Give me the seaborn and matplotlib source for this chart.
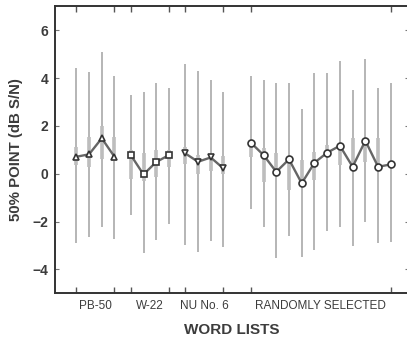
import matplotlib
matplotlib.use("Agg")
import matplotlib.pyplot as plt
import matplotlib.transforms as mtransforms
import numpy as np
import pandas as pd
import seaborn as sns

# word list groups and number of lists in each
groups = ["PB-50", "W-22", "NU No. 6", "RANDOMLY SELECTED"]
group_sizes = [4, 4, 4, 12]

# 50% point (dB S/N) per list
means = [0.71, 0.81, 1.48, 0.71,
         0.78, -0.03, 0.49, 0.78,
         0.85, 0.50, 0.68, 0.22,
         1.30, 0.78, 0.08, 0.60, -0.40, 0.46, 0.88, 1.17, 0.29, 1.38, 0.29, 0.39]

# full range (long lines)
range_lo = [-2.91, -2.63, -2.21, -2.73,
            -1.73, -3.33, -2.77, -2.08,
            -2.98, -3.26, -2.80, -3.05,
            -1.49, -2.21, -3.54, -2.59, -3.47, -3.19, -2.40, -2.21, -3.01, -2.00, -2.91, -2.87]
range_hi = [4.40, 4.23, 5.10, 4.08,
            3.29, 3.43, 3.80, 3.57,
            4.58, 4.30, 3.91, 3.43,
            4.08, 3.91, 3.80, 3.80, 2.70, 4.22, 4.22, 4.71, 3.50, 4.78, 3.57, 3.80]

# inner range (short thick bars)
inner_lo = [0.35, 0.30, 0.60, 0.55,
            -0.20, -0.30, -0.12, 0.30,
            0.40, 0.00, 0.10, 0.00,
            0.70, -0.33, 0.15, -0.68, -0.33, -0.26, 0.71, 0.36, 0.29, 0.50, 0.36, 0.30]
inner_hi = [1.10, 1.55, 2.00, 1.55,
            1.00, 0.86, 0.99, 1.00,
            1.10, 0.80, 0.80, 0.75,
            1.40, 1.06, 0.85, 0.57, 0.57, 0.92, 1.20, 1.27, 1.48, 1.41, 1.48, 0.50]

group_markers = {"PB-50": "^", "W-22": "s", "NU No. 6": "v", "RANDOMLY SELECTED": "o"}

# x layout: unit step inside a group, wider gaps between groups
gaps = [0, 1.28, 1.28, 2.15]
xs, labels = [], []
pos = 0.0
for g, n, gap in zip(groups, group_sizes, gaps):
    pos += gap if xs else 0
    for k in range(n):
        xs.append(pos + k)
        labels.append(g)
    pos = xs[-1]

df = pd.DataFrame({
    "group": labels, "x": xs, "mean": means,
    "lo": range_lo, "hi": range_hi, "ilo": inner_lo, "ihi": inner_hi,
})

sns.set_style("ticks")
plt.rcParams["font.family"] = ["Liberation Sans", "DejaVu Sans"]
text_color = "#3c3c3c"

fig = plt.figure(figsize=(4.07, 3.38), dpi=100)
ax = fig.add_axes([55.3 / 407, 44.6 / 338, 353.2 / 407, 287.2 / 338])

ax.vlines(df["x"], df["lo"], df["hi"], color="#a2a2a2", lw=1.1, zorder=1)
ax.vlines(df["x"], df["ilo"], df["ihi"], color="#bdbdbd", lw=2.6, zorder=1.5)

sns.lineplot(data=df, x="x", y="mean", style="group", markers=group_markers,
             dashes=False, color="#666666", lw=1.7, estimator=None, sort=False,
             legend=False, ax=ax, markersize=5, markerfacecolor="white",
             markeredgecolor="#333333", markeredgewidth=1.2, zorder=3)

ax.set_xlim(-1.65, 26.1)
ax.set_ylim(-5, 7)
ax.set_yticks([-4, -2, 0, 2, 4, 6])

# ticks at the first and last list of each group
edge_ticks = []
for g in groups:
    sub = df[df["group"] == g]["x"]
    edge_ticks += [sub.min(), sub.max()]
ax.set_xticks(edge_ticks)
ax.set_xticklabels([])
ax.tick_params(axis="x", direction="in", length=4, width=1, color="#555555",
               top=True, bottom=True)
ax.tick_params(axis="y", direction="in", length=3, width=0.8, color="#777777",
               left=True, right=True, labelsize=10, labelcolor=text_color, pad=5)
for lab in ax.get_yticklabels():
    lab.set_fontweight("bold")

for side in ["left", "bottom", "top"]:
    ax.spines[side].set_color("#333333")
    ax.spines[side].set_linewidth(1.4)
ax.spines["right"].set_visible(False)

trans = mtransforms.blended_transform_factory(ax.transData, ax.transAxes)
for g in groups:
    sub = df[df["group"] == g]["x"]
    ax.text((sub.min() + sub.max()) / 2, -0.045, g, transform=trans,
            ha="center", va="center", fontsize=8.5, color=text_color)

ax.set_xlabel("WORD LISTS", fontsize=11, color=text_color, fontweight="bold", labelpad=18)
ax.set_ylabel("50% POINT (dB S/N)", fontsize=10.8, color=text_color, fontweight="bold", labelpad=7)

fig.savefig("out.png", dpi=100)
